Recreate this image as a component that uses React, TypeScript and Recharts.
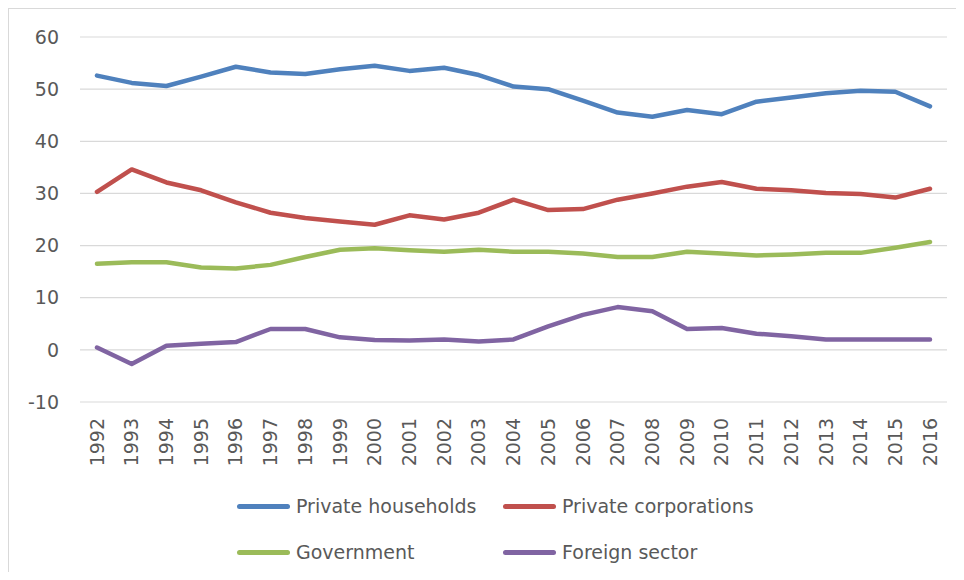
import { LineChart, Line, XAxis, YAxis, CartesianGrid, Legend } from "recharts";

const years = [
  "1992", "1993", "1994", "1995", "1996", "1997", "1998", "1999", "2000",
  "2001", "2002", "2003", "2004", "2005", "2006", "2007", "2008", "2009",
  "2010", "2011", "2012", "2013", "2014", "2015", "2016",
];

const privateHouseholds = [
  52.6, 51.2, 50.6, 52.4, 54.3, 53.2, 52.9, 53.8, 54.5, 53.5, 54.1, 52.7,
  50.5, 50.0, 47.8, 45.5, 44.7, 46.0, 45.2, 47.6, 48.4, 49.2, 49.7, 49.5, 46.7,
];

const privateCorporations = [
  30.3, 34.6, 32.1, 30.6, 28.3, 26.3, 25.3, 24.6, 24.0, 25.8, 25.0, 26.3,
  28.8, 26.8, 27.0, 28.8, 30.0, 31.3, 32.2, 30.9, 30.6, 30.1, 29.9, 29.2, 30.9,
];

const government = [
  16.5, 16.8, 16.8, 15.8, 15.6, 16.3, 17.8, 19.2, 19.5, 19.1, 18.8, 19.2,
  18.8, 18.8, 18.5, 17.8, 17.8, 18.8, 18.5, 18.1, 18.3, 18.6, 18.6, 19.6, 20.7,
];

const foreignSector = [
  0.45, -2.7, 0.8, 1.15, 1.5, 4.0, 4.0, 2.4, 1.9, 1.8, 2.0, 1.6,
  2.0, 4.5, 6.7, 8.2, 7.4, 4.0, 4.2, 3.1, 2.6, 2.0, 2.0, 2.0, 2.0,
];

const seriesNames = ["Private households", "Private corporations", "Government", "Foreign sector"];

const yTicks = [-10, 0, 10, 20, 30, 40, 50, 60];

const data = years.map((year, i) => ({
  year,
  households: privateHouseholds[i],
  corporations: privateCorporations[i],
  government: government[i],
  foreign: foreignSector[i],
}));

const FONT = '"DejaVu Sans", sans-serif';
const TEXT = "#595959";

function YearTick({ x, y, payload }: any) {
  return (
    <text
      x={x}
      y={y}
      transform={`rotate(-90 ${x} ${y})`}
      textAnchor="end"
      dy="0.35em"
      fill={TEXT}
      fontSize={19}
      fontFamily={FONT}
    >
      {payload.value}
    </text>
  );
}

function LegendBox({ payload }: any) {
  // keep series order, recharts sorts legend items by name
  const items = [...(payload || [])].sort(
    (a: any, b: any) => seriesNames.indexOf(a.value) - seriesNames.indexOf(b.value)
  );
  return (
    <div
      style={{
        height: 100,
        boxSizing: "border-box",
        paddingTop: 22,
        paddingLeft: 228,
        display: "grid",
        gridTemplateColumns: "266px 266px",
        rowGap: 14,
        fontFamily: FONT,
        fontSize: 19,
        color: TEXT,
      }}
    >
      {items.map((p: any) => (
        <div key={p.value} style={{ display: "flex", alignItems: "center", height: 24 }}>
          <span
            style={{ width: 53, height: 5, borderRadius: 3, background: p.color, marginRight: 6 }}
          />
          <span>{p.value}</span>
        </div>
      ))}
    </div>
  );
}

export default function App() {
  return (
    <div
      style={{
        position: "relative",
        width: 956,
        height: 564,
        boxSizing: "border-box",
        borderLeft: "1px solid #d9d9d9",
        borderTop: "1px solid #d9d9d9",
        background: "#fff",
      }}
    >
      <LineChart
        width={955}
        height={563}
        data={data}
        margin={{ top: 28, right: 17, bottom: 0, left: 0 }}
      >
        <CartesianGrid vertical={false} stroke="#d9d9d9" strokeWidth={1.2} />
        <XAxis
          dataKey="year"
          axisLine={false}
          tickLine={false}
          tickSize={0}
          tickMargin={16}
          interval={0}
          height={70}
          padding={{ left: 17, right: 17 }}
          tick={<YearTick />}
        />
        <YAxis
          domain={[-10, 60]}
          ticks={yTicks}
          axisLine={false}
          tickLine={false}
          tickSize={0}
          tickMargin={21}
          width={71}
          tick={{ fill: TEXT, fontSize: 19, fontFamily: FONT }}
        />
        <Legend
          verticalAlign="bottom"
          content={<LegendBox />}
          wrapperStyle={{ left: 0, width: 955, bottom: 0 }}
        />
        <Line
          type="linear"
          dataKey="households"
          name={seriesNames[0]}
          stroke="#4F81BD"
          strokeWidth={4.5}
          strokeLinecap="round"
          strokeLinejoin="round"
          dot={false}
          isAnimationActive={false}
        />
        <Line
          type="linear"
          dataKey="corporations"
          name={seriesNames[1]}
          stroke="#C0504D"
          strokeWidth={4.5}
          strokeLinecap="round"
          strokeLinejoin="round"
          dot={false}
          isAnimationActive={false}
        />
        <Line
          type="linear"
          dataKey="government"
          name={seriesNames[2]}
          stroke="#9BBB59"
          strokeWidth={4.5}
          strokeLinecap="round"
          strokeLinejoin="round"
          dot={false}
          isAnimationActive={false}
        />
        <Line
          type="linear"
          dataKey="foreign"
          name={seriesNames[3]}
          stroke="#8064A2"
          strokeWidth={4.5}
          strokeLinecap="round"
          strokeLinejoin="round"
          dot={false}
          isAnimationActive={false}
        />
      </LineChart>
    </div>
  );
}
